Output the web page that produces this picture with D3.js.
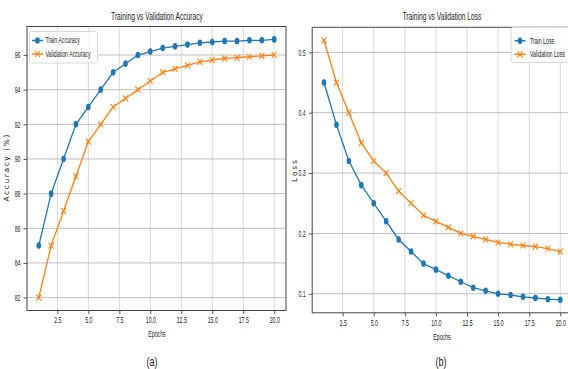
<!DOCTYPE html>
<html><head><meta charset="utf-8">
<script src="https://cdn.jsdelivr.net/npm/d3@7"></script>
<style>body{margin:0;background:#fff}svg{display:block}text{font-family:"Liberation Sans",Arial,sans-serif;fill:#222}</style>
</head><body><svg id="c" width="568" height="369"></svg>
<script>
const epochs = d3.range(1, 21);
const trainAcc = [85, 88, 90, 92, 93, 94, 95, 95.5, 96, 96.2, 96.4, 96.5, 96.6, 96.7, 96.75, 96.8, 96.8, 96.85, 96.85, 96.9];
const valAcc = [82, 85, 87, 89, 91, 92, 93, 93.5, 94, 94.5, 95, 95.2, 95.4, 95.6, 95.7, 95.8, 95.85, 95.9, 95.95, 96.0];
const trainLoss = [0.45, 0.38, 0.32, 0.28, 0.25, 0.22, 0.19, 0.17, 0.15, 0.14, 0.13, 0.12, 0.11, 0.105, 0.1, 0.098, 0.095, 0.093, 0.091, 0.09];
const valLoss = [0.52, 0.45, 0.40, 0.35, 0.32, 0.30, 0.27, 0.25, 0.23, 0.22, 0.21, 0.20, 0.195, 0.19, 0.185, 0.182, 0.18, 0.178, 0.175, 0.17];
const xTicks = [2.5, 5.0, 7.5, 10.0, 12.5, 15.0, 17.5, 20.0];
const accTicks = [82, 84, 86, 88, 90, 92, 94, 96];
const lossTicks = [0.1, 0.2, 0.3, 0.4, 0.5];

const BLUE = "#1f77b4", ORANGE = "#ff7f0e";
const K = 0.58;
const svg = d3.select("#c");

// horizontally condense text around its anchor point
function condense(sel, k) {
  sel.each(function () {
    const el = d3.select(this);
    const x = +el.attr("x") || 0, y = +el.attr("y") || 0;
    el.attr("transform", `translate(${x},${y}) scale(${k},1) translate(${-x},${-y})`);
  });
}

function panel(o) {
  const g = svg.append("g");
  const x = d3.scaleLinear().domain([0.05, 20.95]).range([o.left, o.right]);
  const y = d3.scaleLinear().domain(o.ydom).range([o.bottom, o.top]);
  // grid
  g.append("g").selectAll("line").data(xTicks).join("line")
    .attr("x1", d => x(d)).attr("x2", d => x(d)).attr("y1", o.top).attr("y2", o.bottom)
    .attr("stroke", "#d8d8d8").attr("stroke-width", 1);
  g.append("g").selectAll("line").data(o.yticks).join("line")
    .attr("x1", o.left).attr("x2", o.right).attr("y1", d => y(d)).attr("y2", d => y(d))
    .attr("stroke", "#bdbdbd").attr("stroke-width", 1);
  // axes
  const xa = g.append("g").attr("transform", `translate(0,${o.bottom})`)
    .call(d3.axisBottom(x).tickValues(xTicks).tickFormat(d3.format(".1f")).tickSize(3.5).tickPadding(3));
  const ya = g.append("g").attr("transform", `translate(${o.left},0)`)
    .call(d3.axisLeft(y).tickValues(o.yticks).tickFormat(o.yfmt).tickSize(3.5).tickPadding(3));
  [xa, ya].forEach(a => {
    a.select(".domain").remove();
    a.selectAll("line").attr("stroke", "#555");
    a.selectAll("text").attr("font-size", 9).attr("fill", "#333").style("font-family", '"Liberation Sans",Arial,sans-serif');
    condense(a.selectAll("text"), K);
  });
  g.append("rect").attr("x", o.left).attr("y", o.top).attr("width", o.right - o.left).attr("height", o.bottom - o.top)
    .attr("fill", "none").attr("stroke", "#444").attr("stroke-width", 1);

  const line = d3.line().x((d, i) => x(epochs[i])).y(d => y(d));
  const s1 = o.series[0], s2 = o.series[1];
  g.append("path").datum(s1).attr("d", line).attr("fill", "none").attr("stroke", BLUE).attr("stroke-width", 1.3);
  g.append("g").selectAll("ellipse").data(s1).join("ellipse")
    .attr("cx", (d, i) => x(epochs[i])).attr("cy", d => y(d)).attr("rx", 2.3).attr("ry", 3.3).attr("fill", BLUE);
  g.append("path").datum(s2).attr("d", line).attr("fill", "none").attr("stroke", ORANGE).attr("stroke-width", 1.3);
  const xm = (cx, cy) => `M${cx - 2.5},${cy - 3}L${cx + 2.5},${cy + 3}M${cx - 2.5},${cy + 3}L${cx + 2.5},${cy - 3}`;
  g.append("g").selectAll("path").data(s2).join("path")
    .attr("d", (d, i) => xm(x(epochs[i]), y(d))).attr("stroke", ORANGE).attr("stroke-width", 1.1).attr("fill", "none");

  // title & labels
  const t = g.append("text").attr("x", o.cx).attr("y", 20).attr("text-anchor", "middle").attr("font-size", 11.5).text(o.title);
  condense(t, K);
  const xl = g.append("text").attr("x", o.cx).attr("y", o.xlabY).attr("text-anchor", "middle").attr("font-size", 9).text("Epochs");
  condense(xl, K);
  const cap = g.append("text").attr("x", o.capX).attr("y", 366).attr("text-anchor", "middle").attr("font-size", 13).text(o.cap);
  condense(cap, 0.7);
  g.append("text").attr("transform", `translate(${o.ylx},${o.yly}) rotate(-90)`).attr("text-anchor", "middle")
    .attr("font-size", 7.5).attr("fill", "#333").style("font-family", '"DejaVu Sans",sans-serif')
    .attr("textLength", o.ylLen).attr("lengthAdjust", "spacing").text(o.ylabel);

  // legend
  const L = o.legend;
  g.append("rect").attr("x", L.x).attr("y", L.y).attr("width", L.w).attr("height", L.h).attr("rx", 2)
    .attr("fill", "rgba(255,255,255,0.85)").attr("stroke", "#d8d8d8");
  L.rows.forEach((r, i) => {
    const yy = L.y0 + i * 13.5;
    g.append("line").attr("x1", L.lx).attr("x2", L.lx + 11).attr("y1", yy).attr("y2", yy).attr("stroke", r.c).attr("stroke-width", 1.5);
    if (i === 0) g.append("ellipse").attr("cx", L.lx + 5.5).attr("cy", yy).attr("rx", 2.3).attr("ry", 3.3).attr("fill", r.c);
    else g.append("path").attr("d", xm(L.lx + 5.5, yy)).attr("stroke", r.c).attr("stroke-width", 1.1);
    const tt = g.append("text").attr("x", L.tx).attr("y", yy + 3).attr("font-size", 9).text(r.t);
    condense(tt, K);
  });
}

panel({
  id: "a", left: 27, right: 286, top: 26.5, bottom: 310.5, ydom: [81.255, 97.645],
  yticks: accTicks, yfmt: d3.format("d"), series: [trainAcc, valAcc],
  title: "Training vs Validation Accuracy", cx: 157, xlabY: 337, capX: 152, cap: "(a)",
  ylabel: "Accuracy (%)", ylx: 9, yly: 168, ylLen: 67,
  legend: { x: 29.5, y: 31.5, w: 68, h: 31.5, y0: 40.5, lx: 32, tx: 45.5,
    rows: [{ t: "Train Accuracy", c: BLUE }, { t: "Validation Accuracy", c: ORANGE }] }
});
panel({
  id: "b", left: 312.2, right: 572.1, top: 27.3, bottom: 312.8, ydom: [0.0685, 0.5415],
  yticks: lossTicks, yfmt: d3.format(".1f"), series: [trainLoss, valLoss],
  title: "Training vs Validation Loss", cx: 442, xlabY: 340, capX: 441, cap: "(b)",
  ylabel: "Loss", ylx: 297, yly: 171, ylLen: 22,
  legend: { x: 511, y: 27.5, w: 70, h: 35, y0: 40.8, lx: 514.5, tx: 530,
    rows: [{ t: "Train Loss", c: BLUE }, { t: "Validation Loss", c: ORANGE }] }
});
</script></body></html>
